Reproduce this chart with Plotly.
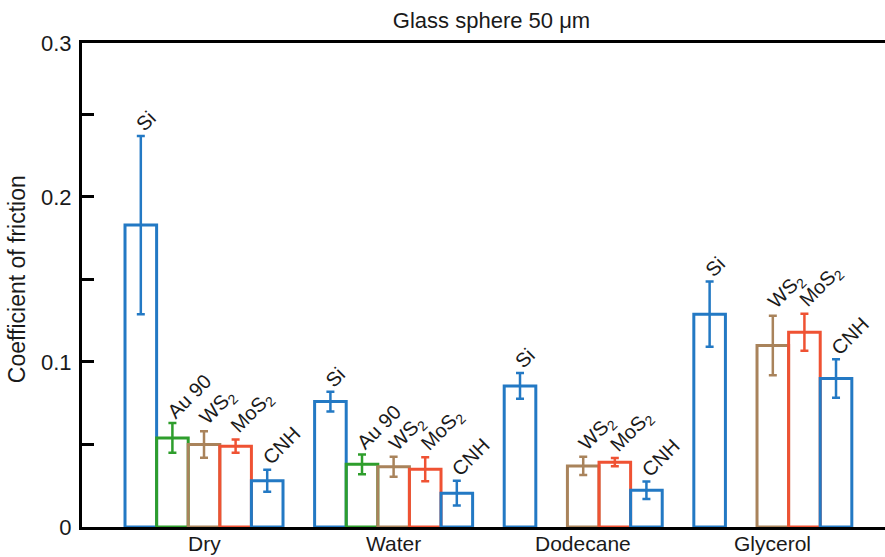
import plotly.graph_objects as go

# ---- data ----
groups = ["Dry", "Water", "Dodecane", "Glycerol"]
materials = ["Si", "Au 90", "WS<sub>2</sub>", "MoS<sub>2</sub>", "CNH"]

si_vals = [0.183, 0.076, 0.0855, 0.129]
si_errs = [0.054, 0.006, 0.0078, 0.0197]
au_vals = [0.054, 0.038, None, None]
au_errs = [0.009, 0.006, None, None]
ws2_vals = [0.050, 0.0365, 0.037, 0.110]
ws2_errs = [0.008, 0.006, 0.0055, 0.018]
mos2_vals = [0.049, 0.035, 0.0393, 0.118]
mos2_errs = [0.004, 0.0073, 0.0025, 0.0112]
cnh_vals = [0.028, 0.0205, 0.0222, 0.090]
cnh_errs = [0.0067, 0.0075, 0.0053, 0.0116]

values = [si_vals, au_vals, ws2_vals, mos2_vals, cnh_vals]
errors = [si_errs, au_errs, ws2_errs, mos2_errs, cnh_errs]
colors = ["#2379c4", "#2e9e2c", "#a9835b", "#ef5233", "#2379c4"]

y_tick_vals = [0, 0.1, 0.2, 0.2933]
y_tick_text = ["0", "0.1", "0.2", "0.3"]
y_minor_vals = [0.05, 0.15, 0.25]

FONT = "Liberation Sans, Arial, Helvetica, sans-serif"
slots_per_group = len(materials) + 1

fig = go.Figure()
annotations = []
for mi, (name, vals, errs, col) in enumerate(zip(materials, values, errors, colors)):
    xs = [gi * slots_per_group + mi for gi in range(len(groups))]
    fig.add_trace(go.Bar(
        x=xs, y=vals, name=name, width=1,
        marker=dict(color="rgba(255,255,255,0)", line=dict(color=col, width=3)),
        error_y=dict(type="data", array=errs, color=col, thickness=2.5, width=4),
        showlegend=False,
    ))
    for x, v, e in zip(xs, vals, errs):
        if v is None:
            continue
        annotations.append(dict(
            x=x, y=v + e, xref="x", yref="y", text=name, showarrow=False,
            textangle=-45, xanchor="left", yanchor="bottom",
            xshift=-12, yshift=-2,
            font=dict(family=FONT, size=20, color="#1a1a1a"),
        ))

# category labels under each group
for gi, g in enumerate(groups):
    annotations.append(dict(
        x=gi * slots_per_group + 2, y=0, xref="x", yref="paper", text=g,
        showarrow=False, xanchor="center", yanchor="bottom", yshift=-30,
        font=dict(family=FONT, size=21, color="#1a1a1a"),
    ))

annotations.append(dict(
    x=-0.081, y=0.512, xref="paper", yref="paper", text="Coefficient of friction",
    textangle=-90, showarrow=False, xanchor="center", yanchor="middle",
    font=dict(family=FONT, size=23, color="#1a1a1a"),
))

fig.update_layout(
    width=885, height=557,
    margin=dict(l=82, r=0, t=43, b=30, autoexpand=False),
    paper_bgcolor="white", plot_bgcolor="white",
    barmode="overlay",
    title=dict(text="Glass sphere 50 μm", x=0.51, xref="paper", xanchor="center",
               y=1 - 20 / 557, yref="container", yanchor="middle",
               font=dict(family=FONT, size=22, color="#1a1a1a")),
    annotations=annotations,
    xaxis=dict(
        range=[-1.861, 23.55],
        showticklabels=False,
        ticks="", showgrid=False, zeroline=False,
        showline=True, linecolor="black", linewidth=3, mirror=True,
        layer="below traces",
    ),
    yaxis=dict(
        range=[0, 0.2933],
        tickvals=y_tick_vals, ticktext=y_tick_text,
        ticks="inside", ticklen=12, tickwidth=2.5, tickcolor="black",
        minor=dict(tickvals=y_minor_vals, ticks="inside", ticklen=12,
                   tickwidth=2.5, tickcolor="black"),
        showgrid=False, zeroline=False,
        showline=True, linecolor="black", linewidth=3,
        ticklabelstandoff=3,
        tickfont=dict(family=FONT, size=22, color="#1a1a1a"),
    ),
)

fig.write_html(
    "out.html",
    config={"displayModeBar": False},
    post_script="document.body.style.margin='0';document.body.style.overflow='hidden';",
)
